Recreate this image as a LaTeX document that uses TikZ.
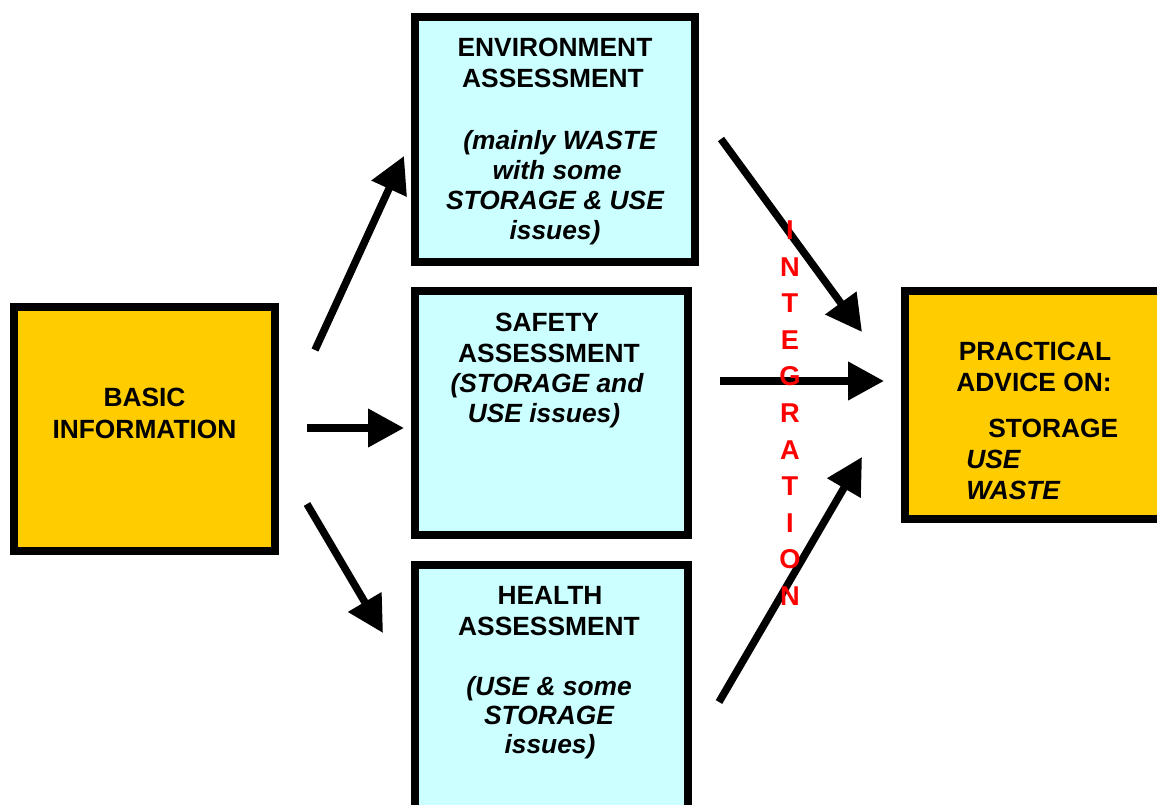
\documentclass[tikz,border=0pt]{standalone}
\usepackage{fontspec}
\setmainfont{Liberation Sans}
\usetikzlibrary{arrows.meta}
\definecolor{gold}{HTML}{FFCC00}
\definecolor{pale}{HTML}{CCFFFF}
\definecolor{redtxt}{HTML}{FF0000}
\begin{document}
\begin{tikzpicture}[x=0.02cm,y=-0.02cm,
  box/.style={draw=black,line width=0.16cm,inner sep=0pt,outer sep=0pt,rectangle},
  txt/.style={font=\fontsize{15}{18}\selectfont\bfseries,anchor=base,inner sep=0pt},
  itxt/.style={font=\fontsize{15}{18}\selectfont\bfseries\itshape,anchor=base,inner sep=0pt},
  arr/.style={line width=0.15cm,-{Triangle[length=0.72cm,width=0.74cm]}},
  letter/.style={font=\fontsize{15.5}{18}\selectfont\bfseries,text=redtxt,anchor=base,inner sep=0pt}]
\useasboundingbox (0,0) rectangle (1157,805);

% boxes
\node[box,fill=gold,minimum width=5.22cm,minimum height=4.88cm] (basic) at (144.5,429) {};
\node[box,fill=pale,minimum width=5.6cm,minimum height=4.9cm] (env) at (555,139.5) {};
\node[box,fill=pale,minimum width=5.46cm,minimum height=4.88cm] (safety) at (551.5,413) {};
\node[box,fill=pale,minimum width=5.46cm,minimum height=5.3cm] (health) at (551.5,697.5) {};
\node[box,fill=gold,minimum width=5.4cm,minimum height=4.56cm] (practical) at (1040,405) {};

% texts
\node[txt] (basicA) at (144.5,406) {BASIC};
\node[txt] (basicB) at (144.5,438) {INFORMATION};

\node[txt] (envA) at (555,56) {ENVIRONMENT};
\node[txt] (envB) at (553,87) {ASSESSMENT};
\node[itxt] (envC) at (560,149) {(mainly WASTE};
\node[itxt] (envD) at (557,179) {with some};
\node[itxt] (envE) at (555,209) {STORAGE \& USE};
\node[itxt] (envF) at (555,239) {issues)};

\node[txt] (safA) at (547,331) {SAFETY};
\node[txt] (safB) at (549,362) {ASSESSMENT};
\node[itxt] (safC) at (547,392) {(STORAGE and};
\node[itxt] (safD) at (544,422) {USE issues)};

\node[txt] (heaA) at (550,604) {HEALTH};
\node[txt] (heaB) at (549,635) {ASSESSMENT};
\node[itxt] (heaC) at (549,695) {(USE \& some};
\node[itxt] (heaD) at (549,724) {STORAGE};
\node[itxt] (heaE) at (550,753) {issues)};

\node[txt] (praA) at (1035,360) {PRACTICAL};
\node[txt] (praB) at (1034,391) {ADVICE ON:};
\node[txt,anchor=base west] (praC) at (988,437) {STORAGE};
\node[itxt,anchor=base west] (praD) at (966,468) {USE};
\node[itxt,anchor=base west] (praE) at (966,499) {WASTE};

% arrow end points
\coordinate (a1s) at (315,350); \coordinate (a1e) at (404,156);
\coordinate (a2s) at (307,428); \coordinate (a2e) at (404,428);
\coordinate (a3s) at (307,504); \coordinate (a3e) at (383,633);
\coordinate (b1s) at (721,139); \coordinate (b1e) at (862,332);
\coordinate (b2s) at (720,381); \coordinate (b2e) at (884,381);
\coordinate (b3s) at (719,702); \coordinate (b3e) at (862,457);

\draw[arr] (a1s) -- (a1e);
\draw[arr] (a2s) -- (a2e);
\draw[arr] (a3s) -- (a3e);
\draw[arr] (b1s) -- (b1e);
\draw[arr] (b2s) -- (b2e);
\draw[arr] (b3s) -- (b3e);

% INTEGRATION (over the arrows)
\foreach \ch [count=\k from 0] in {I,N,T,E,G,R,A,T,I,O,N}
  \node[letter] (int\k) at (790,239.5+36.6*\k) {\ch};
\end{tikzpicture}
\end{document}
